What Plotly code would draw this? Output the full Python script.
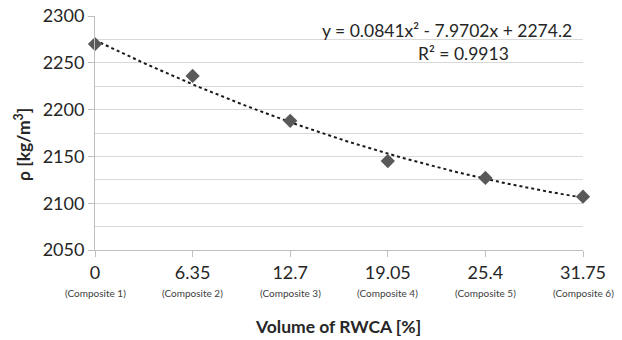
import numpy as np
import plotly.graph_objects as go

x_vals = [0, 6.35, 12.7, 19.05, 25.4, 31.75]
x_labels = ["0", "6.35", "12.7", "19.05", "25.4", "31.75"]
composite_labels = ["(Composite 1)", "(Composite 2)", "(Composite 3)",
                    "(Composite 4)", "(Composite 5)", "(Composite 6)"]
density = [2270, 2236, 2188, 2145, 2127, 2107]
trend_coef = [0.0841, -7.9702, 2274.2]
y_ticks = [2050, 2100, 2150, 2200, 2250, 2300]

FONT = "Lato"
TXT = "#262626"

# plot area in pixels
L, R, T, B = 95, 583, 16, 250
PW, PH = R - L, B - T

def px(x):
    return (x - L) / PW

def py(y):
    return (B - y) / PH

xt = np.linspace(x_vals[0], x_vals[-1], 200)
yt = np.polyval(trend_coef, xt)

fig = go.Figure()
fig.add_trace(go.Scatter(x=xt, y=yt, mode="lines",
                         line=dict(color="#1a1a1a", width=2, dash="dot"),
                         hoverinfo="skip", showlegend=False))
fig.add_trace(go.Scatter(x=x_vals, y=density, mode="markers",
                         marker=dict(symbol="diamond", size=11, color="#595959"),
                         cliponaxis=False, showlegend=False))

for xv, lab in zip(x_vals, composite_labels):
    fig.add_annotation(x=xv, y=py(293), xref="x", yref="paper", text=lab, showarrow=False,
                       font=dict(family=FONT, size=10, color="#404040"),
                       xanchor="center", yanchor="middle")

fig.add_annotation(x=px(447), y=py(30), xref="paper", yref="paper",
                   text="y = 0.0841x² - 7.9702x + 2274.2", showarrow=False,
                   font=dict(family=FONT, size=17.5, color=TXT), xanchor="center", yanchor="middle")
fig.add_annotation(x=px(463), y=py(54), xref="paper", yref="paper",
                   text="R² = 0.9913", showarrow=False,
                   font=dict(family=FONT, size=17.5, color=TXT), xanchor="center", yanchor="middle")

# axis titles
fig.add_annotation(x=px(338), y=py(326), xref="paper", yref="paper",
                   text="<b>Volume of RWCA [%]</b>", showarrow=False,
                   font=dict(family=FONT, size=17.5, color=TXT), xanchor="center", yanchor="middle")
fig.add_annotation(x=px(22), y=py(145), xref="paper", yref="paper",
                   text="<b>ρ [kg/m<sup>3</sup>]</b>", showarrow=False, textangle=-90,
                   font=dict(family=FONT, size=17.5, color=TXT), xanchor="center", yanchor="middle")

fig.update_layout(
    width=622, height=340,
    margin=dict(l=L, r=622 - R, t=T, b=340 - B, autoexpand=False),
    paper_bgcolor="white", plot_bgcolor="white",
    font=dict(family=FONT, color=TXT),
    xaxis=dict(range=[x_vals[0], x_vals[-1]], tickvals=x_vals, ticktext=x_labels,
               automargin=False,
               showgrid=False, zeroline=False, showline=True, linecolor="#bfbfbf", linewidth=1,
               ticks="outside", ticklen=6, tickcolor="#bfbfbf",
               tickfont=dict(family=FONT, size=18, color=TXT)),
    yaxis=dict(range=[2050, 2300], tickvals=y_ticks, automargin=False,
               showgrid=True, gridcolor="#d9d9d9", gridwidth=1,
               minor=dict(dtick=25, showgrid=True, gridcolor="#d9d9d9", tick0=2050),
               zeroline=False, showline=True, linecolor="#bfbfbf", linewidth=1,
               ticks="outside", ticklen=6, tickcolor="#bfbfbf",
               tickfont=dict(family=FONT, size=18, color=TXT)),
)

fig.write_html("out.html", config={"displayModeBar": False},
               post_script="document.body.style.margin='0';document.body.style.overflow='hidden';")
